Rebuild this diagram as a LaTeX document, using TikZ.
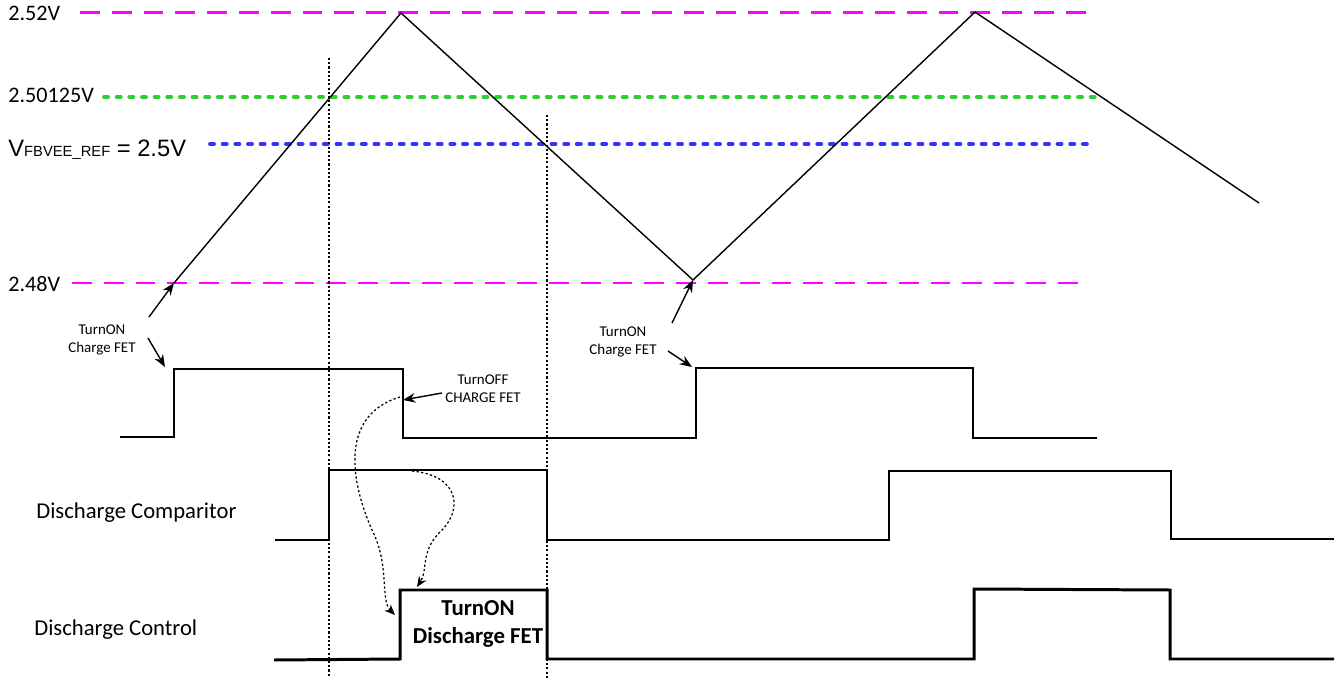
\documentclass[tikz,border=0pt]{standalone}
\usepackage{fontspec}
\setmainfont{Carlito}
\newfontfamily\arialfont{Liberation Sans}
\usetikzlibrary{arrows.meta, positioning}

\newcommand{\lvlfont}{\fontsize{12.6pt}{14pt}\selectfont}
\newcommand{\notefont}{\fontsize{8.5pt}{10.2pt}\selectfont}
\newcommand{\sigfont}{\fontsize{12.9pt}{14pt}\selectfont}

\begin{document}
\begin{tikzpicture}[x=0.02cm, y=-0.02cm,
    lvl/.style={anchor=base west, inner sep=0pt, font=\lvlfont},
    sig/.style={anchor=base west, inner sep=0pt, font=\sigfont},
    note/.style={align=center, inner sep=0pt, font=\notefont},
    limit/.style={draw=lvlmagenta, line width=1.7pt, dash pattern=on 11.3pt off 6.8pt},
    thresh/.style={line width=2.2pt, line cap=round, dash pattern=on 2.3pt off 4.9pt},
    wave/.style={line width=0.8pt},
    heavy/.style={line width=1.7pt},
    marker/.style={line width=0.6pt, dash pattern=on 1.2pt off 1.2pt},
    arrow/.style={-{Stealth[length=7pt, width=5.5pt]}, line width=0.8pt},
    hop/.style={-{Stealth[length=6pt, width=5pt]}, line width=0.7pt, dash pattern=on 1.3pt off 1.3pt}
]
    \useasboundingbox (0,0) rectangle (1341,678);
    \definecolor{lvlmagenta}{RGB}{255,0,255}
    \definecolor{lvlgreen}{RGB}{51,204,51}
    \definecolor{lvlblue}{RGB}{51,51,255}

    % Threshold levels
    \node[lvl] (top) at (8,21) {2.52V};
    \node[lvl] (upper) at (8,103) {2.50125V};
    \node[anchor=base west, inner sep=0pt] (ref) at (8,157)
        {\arialfont\fontsize{13.5pt}{15pt}\selectfont V{\fontsize{8.4pt}{10pt}\selectfont FBVEE\_REF} = 2.5V};
    \node[lvl] (bottom) at (8,292) {2.48V};
    \draw[limit] (80,13) -- (1090,13);
    \draw[thresh, lvlgreen] (104,97) -- (1095,97);
    \draw[thresh, lvlblue] (210,144) -- (1088,144);
    \draw[limit] (72,283) -- (1085,283);

    % Triangle wave
    \coordinate (minA) at (174,283);
    \coordinate (minB) at (693,280);
    \draw[wave] (minA) -- (401,13) -- (minB) -- (975,12) -- (1259,203);

    % Crossing markers
    \draw[marker] (329,58) -- (329,678);
    \draw[marker] (547,115) -- (547,678);

    % Charge FET signal
    \coordinate (riseA) at (174,369);
    \coordinate (fallA) at (403,400);
    \coordinate (riseB) at (696,368);
    \draw[wave] (120,437) -- (174,437) -- (riseA) -- (403,369) -- (403,438)
        -- (696,438) -- (riseB) -- (973,368) -- (973,438) -- (1097,438);

    % Discharge comparator signal
    \node[sig] (cmp) at (36,518) {Discharge Comparitor};
    \coordinate (cmpHigh) at (412,471);
    \draw[wave] (275,540) -- (329,540) -- (329,470) -- (547,470) -- (547,540)
        -- (889,540) -- (889,471) -- (1171,471) -- (1171,539) -- (1334,539);

    % Discharge control signal
    \node[sig] (ctl) at (34,635) {Discharge Control};
    \coordinate (ctlRise) at (395,615);
    \coordinate (ctlTop) at (417,587);
    \draw[heavy] (274,660) -- (400,659) -- (400,590) -- (547,590) -- (547,659)
        -- (974,659) -- (974,589) -- (1170,590) -- (1170,659) -- (1334,659);
    \node[align=center, inner sep=0pt, font=\fontsize{13pt}{15.5pt}\selectfont\bfseries]
        (dfet) at (478,624) {TurnON\\Discharge FET};

    % Annotations
    \node[note] (onA) at (102,340) {TurnON\\Charge FET};
    \node[note] (onB) at (623,342) {TurnON\\Charge FET};
    \node[note] (offA) at (483,389) {TurnOFF\\CHARGE FET};
    \coordinate (onAup) at (149,317);
    \coordinate (onAdn) at (148,338);
    \coordinate (onBup) at (672,323);
    \coordinate (onBdn) at (668,351);
    \coordinate (offAsrc) at (442,393);
    \coordinate (hopA) at (400,397);
    \draw[arrow] (onAup) -- (minA);
    \draw[arrow] (onAdn) -- (165,367);
    \draw[arrow] (onBup) -- (minB);
    \draw[arrow] (onBdn) -- (692,367);
    \draw[arrow] (offAsrc) -- (fallA);

    % Cause and effect
    \draw[hop] (hopA) .. controls (340,415) and (350,480) .. (372,530)
        .. controls (390,565) and (380,600) .. (ctlRise);
    \draw[hop] (cmpHigh) .. controls (462,476) and (462,512) .. (440,532)
        .. controls (420,552) and (428,570) .. (ctlTop);
\end{tikzpicture}
\end{document}
